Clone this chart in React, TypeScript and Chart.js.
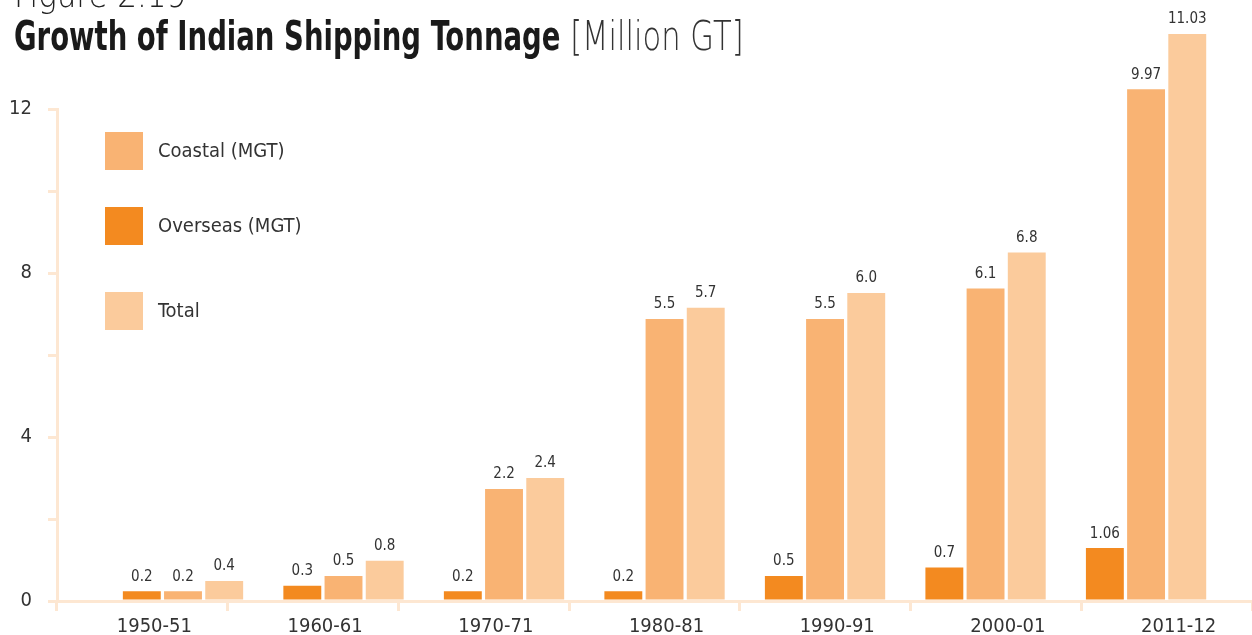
import React, { useEffect, useRef } from "react";
import { Chart, registerables } from "chart.js";

Chart.register(...registerables);

const categories = ["1950-51", "1960-61", "1970-71", "1980-81", "1990-91", "2000-01", "2011-12"];

// bar heights as drawn against the axis
const overseasValues = [0.24, 0.37, 0.24, 0.24, 0.61, 0.82, 1.29];
const coastalValues = [0.24, 0.61, 2.73, 6.88, 6.88, 7.62, 12.48];
const totalValues = [0.49, 0.98, 3.0, 7.15, 7.51, 8.5, 13.83];

// printed value labels
const overseasLabels = ["0.2", "0.3", "0.2", "0.2", "0.5", "0.7", "1.06"];
const coastalLabels = ["0.2", "0.5", "2.2", "5.5", "5.5", "6.1", "9.97"];
const totalLabels = ["0.4", "0.8", "2.4", "5.7", "6.0", "6.8", "11.03"];

const yTickValues = [0, 4, 8, 12];

const seriesNames = ["Overseas (MGT)", "Coastal (MGT)", "Total"];
const seriesColors = ["#F38A20", "#F9B373", "#FBCB9C"];

const AXIS = "#FDE7D2";
const TEXT = "#333333";
const FONT = "'DejaVu Sans Condensed', 'DejaVu Sans', sans-serif";

const valueLabelPlugin = {
  id: "valueLabels",
  afterDatasetsDraw(chart: any) {
    const ctx = chart.ctx;
    const all = [overseasLabels, coastalLabels, totalLabels];
    ctx.save();
    ctx.fillStyle = TEXT;
    ctx.font = `15px ${FONT}`;
    ctx.textAlign = "center";
    ctx.textBaseline = "bottom";
    chart.data.datasets.forEach((ds: any, di: number) => {
      const meta = chart.getDatasetMeta(di);
      meta.data.forEach((el: any, i: number) => {
        ctx.fillText(all[di][i], el.x, el.y - 7);
      });
    });
    ctx.restore();
  },
};

const legendPlugin = {
  id: "customLegend",
  afterDraw(chart: any) {
    const ctx = chart.ctx;
    const order = [1, 0, 2];
    const tops = [132, 207, 292];
    ctx.save();
    order.forEach((di, k) => {
      const ds = chart.data.datasets[di];
      ctx.fillStyle = ds.backgroundColor;
      ctx.fillRect(105, tops[k], 38, 38);
      ctx.fillStyle = TEXT;
      ctx.font = `20px ${FONT}`;
      ctx.textAlign = "left";
      ctx.textBaseline = "middle";
      ctx.fillText(ds.label, 158, tops[k] + 20);
    });
    ctx.restore();
  },
};

export default function App() {
  const ref = useRef<HTMLCanvasElement | null>(null);

  useEffect(() => {
    if (!ref.current) return;
    const chart = new Chart(ref.current, {
      type: "bar",
      data: {
        labels: categories,
        datasets: [overseasValues, coastalValues, totalValues].map((vals, di) => ({
          label: seriesNames[di],
          data: vals.map((v, i) => ({ x: i, y: v })),
          backgroundColor: seriesColors[di],
          borderWidth: 0,
          xAxisID: "x",
          yAxisID: "y",
          clip: false,
          categoryPercentage: 0.77,
          barPercentage: 0.92,
        })),
      },
      options: {
        responsive: false,
        animation: false,
        layout: { padding: { top: 109, left: 0, right: 0, bottom: 0 } },
        plugins: {
          legend: { display: false },
          tooltip: { enabled: false },
          title: { display: false },
        },
        scales: {
          x: {
            type: "linear",
            display: false,
            offset: false,
            grid: { offset: false },
            min: -0.785,
            max: 6.66,
            afterBuildTicks(scale: any) {
              scale.ticks = categories.map((_, i) => ({ value: i }));
            },
          },
          x2: {
            type: "category",
            position: "bottom",
            labels: categories,
            offset: true,
            afterFit(scale: any) {
              scale.height = 34;
            },
            grid: {
              display: true,
              offset: true,
              drawOnChartArea: false,
              drawTicks: true,
              tickLength: 10,
              color: AXIS,
              lineWidth: 3,
            },
            border: { display: true, color: AXIS, width: 3 },
            ticks: {
              color: TEXT,
              font: { family: FONT, size: 20 },
              padding: 4,
              labelOffset: 12,
              maxRotation: 0,
              autoSkip: false,
            },
          },
          y: {
            type: "linear",
            min: 0,
            max: 12,
            afterFit(scale: any) {
              scale.width = 57;
            },
            ticks: {
              stepSize: 2,
              color: TEXT,
              font: { family: FONT, size: 20 },
              padding: 16,
              callback: (v: any) => (yTickValues.includes(Number(v)) ? String(v) : ""),
            },
            grid: {
              display: true,
              drawOnChartArea: false,
              drawTicks: true,
              tickLength: 9,
              color: AXIS,
              lineWidth: 3,
            },
            border: { display: true, color: AXIS, width: 3 },
          },
        },
      } as any,
      plugins: [valueLabelPlugin, legendPlugin],
    });
    return () => chart.destroy();
  }, []);

  return (
    <div
      style={{
        position: "fixed",
        left: 0,
        top: 0,
        width: 1252,
        height: 635,
        background: "#ffffff",
        overflow: "hidden",
      }}
    >
      <canvas ref={ref} width={1252} height={635} style={{ position: "absolute", left: 0, top: 0 }} />
      <div
        style={{
          position: "absolute",
          left: 14,
          top: -25,
          fontFamily: "'DejaVu Sans', sans-serif",
          fontSize: 36,
          fontWeight: 200,
          color: "#222",
          lineHeight: "40px",
          whiteSpace: "nowrap",
          transform: "scaleX(0.86)",
          transformOrigin: "left top",
        }}
      >
        Figure 2.19
      </div>
      <div
        style={{
          position: "absolute",
          left: 14,
          top: 14,
          fontFamily: FONT,
          fontSize: 40,
          color: "#1a1a1a",
          lineHeight: "44px",
          whiteSpace: "nowrap",
          transform: "scaleX(0.765)",
          transformOrigin: "left top",
        }}
      >
        <span style={{ fontWeight: "bold" }}>Growth of Indian Shipping Tonnage</span>
        <span style={{ fontWeight: 200, color: "#333", fontFamily: "'DejaVu Sans', sans-serif" }}> [Million GT]</span>
      </div>
    </div>
  );
}
